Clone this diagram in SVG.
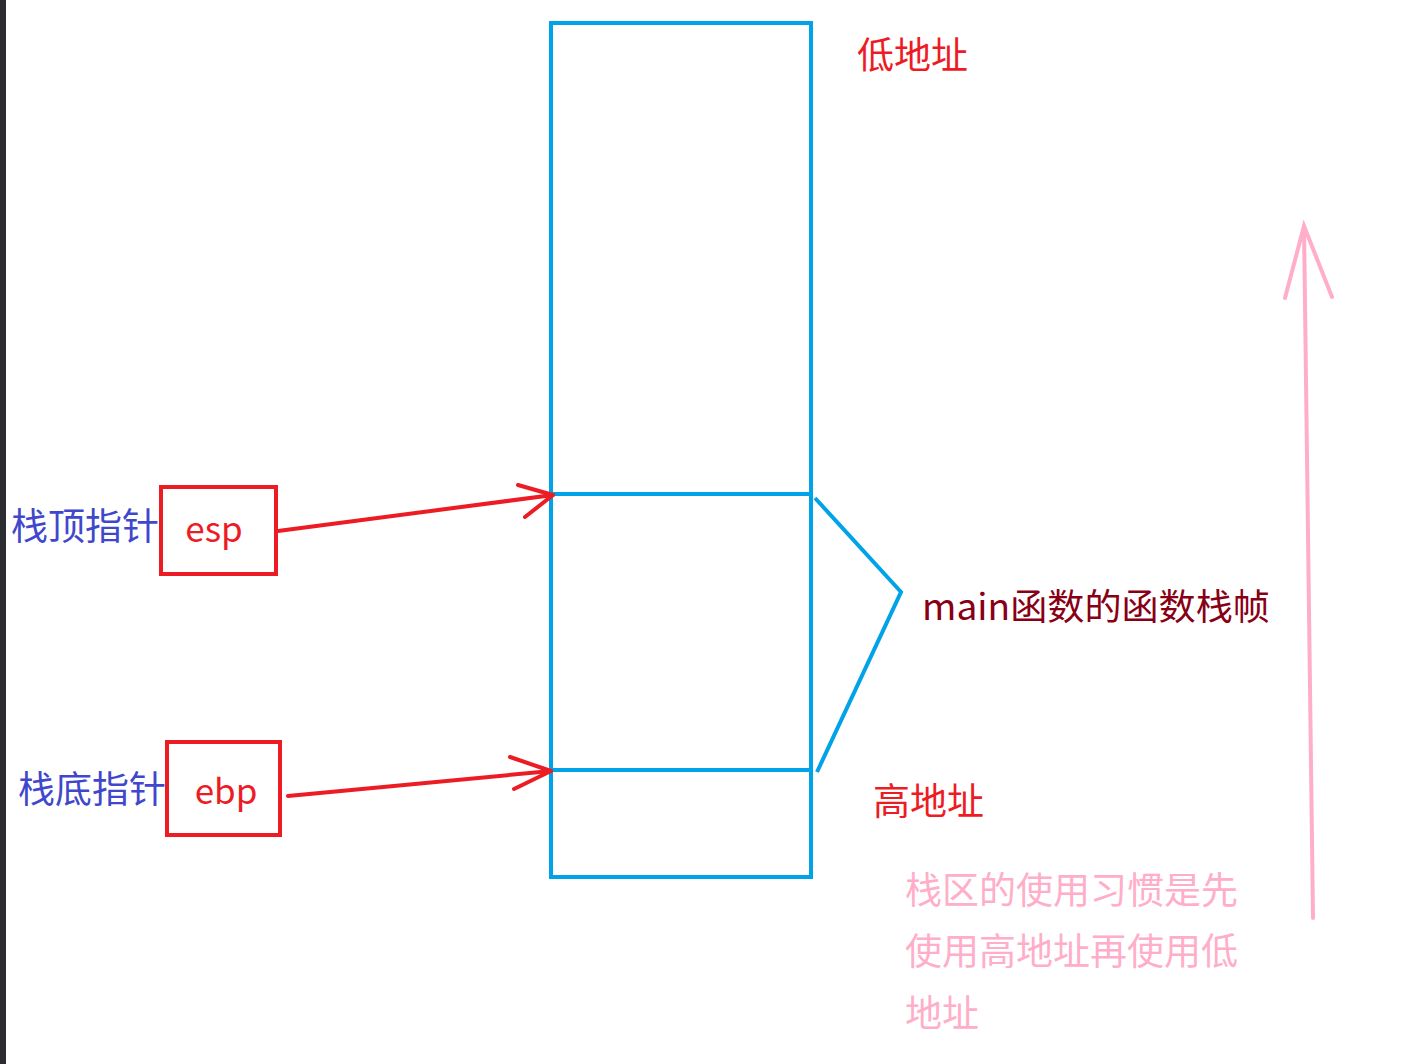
<svg xmlns="http://www.w3.org/2000/svg" width="1404" height="1064" viewBox="0 0 1404 1064">
<style>
text{font-family:"Noto Sans CJK SC","Noto Sans",sans-serif}
.blue{stroke:#00a2e8;stroke-width:4;fill:none}
.red{stroke:#ed1c24;stroke-width:4;fill:none;stroke-linecap:round;stroke-linejoin:round}
.pink{stroke:#ffaec9;stroke-width:4;fill:none;stroke-linecap:round}
.t37{font-size:37px}
</style>
<rect x="0" y="0" width="1404" height="1064" fill="#ffffff"/>
<rect x="0" y="0" width="6" height="1064" fill="#2b2d30"/>
<g id="stack">
<rect class="blue" x="551" y="23" width="260" height="854"/>
<line class="blue" x1="551" y1="494" x2="811" y2="494"/>
<line class="blue" x1="551" y1="770" x2="811" y2="770"/>
</g>
<g id="bracket">
<polyline class="blue" points="815,498 901,592 817,772"/>
</g>
<g id="esp">
<rect x="161" y="487" width="115" height="87" fill="none" stroke="#ed1c24" stroke-width="4"/>
<text x="214" y="542" font-size="35" fill="#ed1c24" text-anchor="middle">esp</text>
</g>
<g id="ebp">
<rect x="167" y="742" width="113" height="93" fill="none" stroke="#ed1c24" stroke-width="4"/>
<text x="226" y="804" font-size="35" fill="#ed1c24" text-anchor="middle">ebp</text>
</g>
<g id="labels">
<text class="t37" x="11" y="540" fill="#3f48cc">栈顶指针</text>
<text class="t37" x="18" y="803" fill="#3f48cc">栈底指针</text>
<text class="t37" x="857" y="69" fill="#ed1c24">低地址</text>
<text class="t37" x="873" y="815" fill="#ed1c24">高地址</text>
<text x="922" y="620" font-size="36" textLength="348" lengthAdjust="spacingAndGlyphs" fill="#880015">main函数的函数栈帧</text>
<text class="t37" x="905" y="904" fill="#ffaec9">栈区的使用习惯是先</text>
<text class="t37" x="905" y="965" fill="#ffaec9">使用高地址再使用低</text>
<text class="t37" x="905" y="1027" fill="#ffaec9">地址</text>
</g>
<g id="connectors">
<line class="red" x1="278" y1="531" x2="553" y2="495"/>
<polyline class="red" points="518,485 553,495 525,517"/>
<line class="red" x1="288" y1="796" x2="551" y2="771"/>
<polyline class="red" points="510,757 551,771 514,789"/>
<line class="pink" x1="1313" y1="918" x2="1304" y2="226"/>
<polyline class="pink" points="1285,298 1304,226 1332,297"/>
</g>
</svg>
